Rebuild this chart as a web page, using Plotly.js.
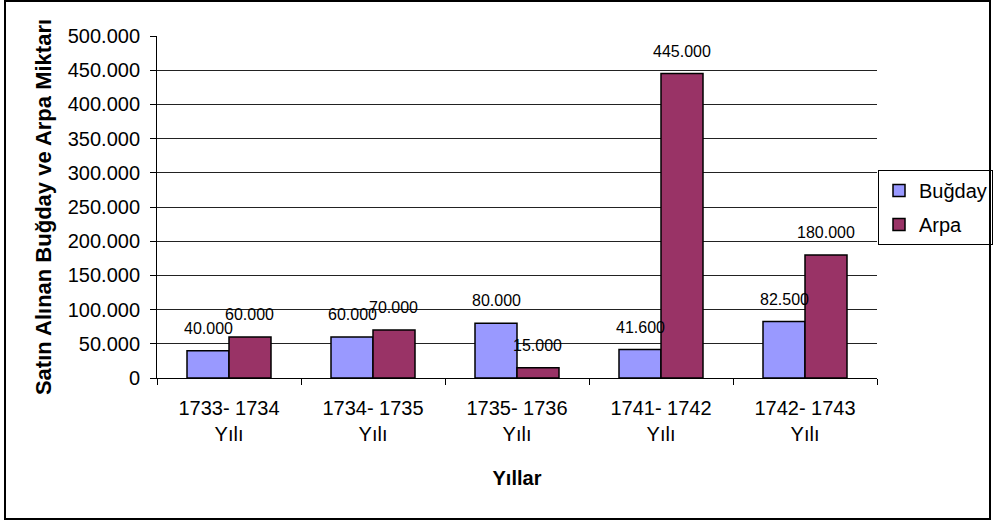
<!DOCTYPE html>
<html>
<head>
<meta charset="utf-8">
<script src="https://cdn.plot.ly/plotly-3.0.1.min.js"></script>
<style>
  html, body { margin: 0; padding: 0; background: #ffffff; }
  #chart { width: 993px; height: 525px; }
</style>
</head>
<body>
<div id="chart"></div>
<script>
// ---- Data ----
const categories = ['1733- 1734<br>Yılı', '1734- 1735<br>Yılı', '1735- 1736<br>Yılı', '1741- 1742<br>Yılı', '1742- 1743<br>Yılı'];
const bugday = [40000, 60000, 80000, 41600, 82500];
const arpa = [60000, 70000, 15000, 445000, 180000];
const seriesNames = ['Buğday', 'Arpa'];
const yTitle = 'Satın Alınan Buğday ve Arpa Miktarı';
const xTitle = 'Yıllar';

// ---- Layout constants ----
const W = 993, H = 525;
const M = { l: 157, r: 116, t: 36, b: 147, autoexpand: false };
const plotW = W - M.l - M.r;
const plotH = H - M.t - M.b;
const BARGAP = 0.4167;
const FONT = 'Liberation Sans, Arial, sans-serif';
const colors = ['#9999FF', '#993366'];

const fmt = v => v.toLocaleString('de-DE');

const traces = [bugday, arpa].map((vals, i) => ({
  type: 'bar',
  name: seriesNames[i],
  x: categories,
  y: vals,
  marker: { color: colors[i], line: { color: '#000000', width: 1.5 } },
  legendgroup: 'g' + i,
  hoverinfo: 'none'
}));

// data labels as annotations, centered above each bar
const barW = plotW / categories.length * (1 - BARGAP) / 2;
const annotations = [];
[bugday, arpa].forEach((vals, i) => {
  vals.forEach((v, j) => {
    annotations.push({
      x: categories[j], y: v, xref: 'x', yref: 'y',
      text: fmt(v), showarrow: false,
      xanchor: 'center', yanchor: 'bottom',
      xshift: (i === 0 ? -1 : 1) * barW / 2,
      yshift: 12,
      font: { family: FONT, size: 16, color: '#000000' }
    });
  });
});

const px2x = p => (p - M.l) / plotW;
const py2y = p => (H - M.b - p) / plotH;

const layout = {
  width: W, height: H,
  margin: M,
  paper_bgcolor: '#ffffff',
  plot_bgcolor: '#ffffff',
  separators: ',.',
  barmode: 'group',
  bargap: BARGAP,
  bargroupgap: 0,
  font: { family: FONT, size: 20, color: '#000000' },
  xaxis: {
    type: 'category',
    showline: true, linecolor: '#000000', linewidth: 1,
    ticks: 'outside', ticklen: 6, tickcolor: '#000000',
    tickson: 'boundaries',
    ticklabelstandoff: 12,
    tickfont: { family: FONT, size: 20 },
    showgrid: false,
    automargin: false,
    title: { text: xTitle, font: { family: FONT, size: 20, weight: 'bold' }, standoff: 26 }
  },
  yaxis: {
    range: [0, 500000],
    dtick: 50000,
    tickformat: ',d',
    showline: true, linecolor: '#000000', linewidth: 1,
    ticks: 'outside', ticklen: 6, tickcolor: '#000000',
    ticklabelstandoff: 6,
    showgrid: true, gridcolor: '#222222', gridwidth: 1,
    zeroline: false,
    tickfont: { family: FONT, size: 20 },
    automargin: false,
    title: { text: yTitle, font: { family: FONT, size: 22, weight: 'bold' }, standoff: 10 }
  },
  legend: {
    x: px2x(878), y: py2y(170), xanchor: 'left', yanchor: 'top',
    bordercolor: '#000000', borderwidth: 1,
    bgcolor: 'rgba(255,255,255,0)',
    font: { family: FONT, size: 20 },
    traceorder: 'grouped',
    tracegroupgap: 5
  },
  annotations: annotations,
  shapes: [{
    type: 'rect', xref: 'paper', yref: 'paper',
    x0: px2x(5), x1: px2x(990), y0: py2y(519), y1: py2y(1),
    line: { color: '#000000', width: 2 }, fillcolor: 'rgba(0,0,0,0)', layer: 'below'
  }]
};

Plotly.newPlot('chart', traces, layout, { displayModeBar: false, staticPlot: true });
</script>
</body>
</html>
